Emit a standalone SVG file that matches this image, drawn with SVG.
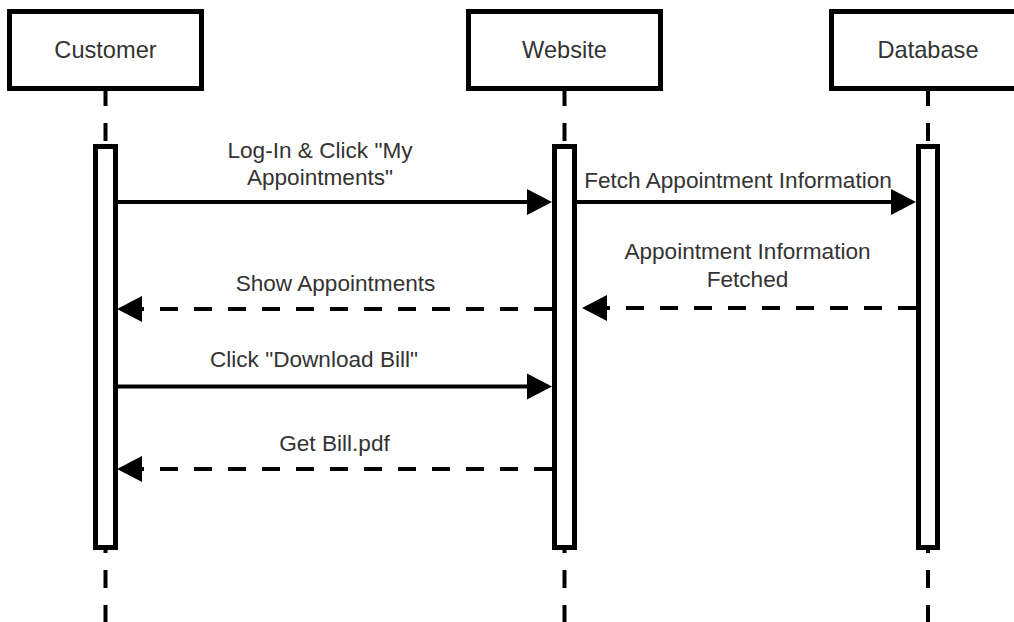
<svg xmlns="http://www.w3.org/2000/svg" width="1014" height="622" viewBox="0 0 1014 622">
  <style>
    .head { fill: #ffffff; stroke: #000000; stroke-width: 5; }
    .bar { fill: #ffffff; stroke: #000000; stroke-width: 5; }
    .life { stroke: #000000; stroke-width: 4; stroke-dasharray: 18 17; fill: none; }
    .msg { stroke: #000000; stroke-width: 4; fill: none; marker-end: url(#arrow); }
    .ret { stroke-dasharray: 18 16; }
    .title { font-family: "Liberation Sans", Arial, sans-serif; font-size: 23.6px; fill: #333333; text-anchor: middle; }
    .label { font-family: "Liberation Sans", Arial, sans-serif; font-size: 22.6px; fill: #333333; text-anchor: middle; }
  </style>
  <defs>
    <marker id="arrow" markerUnits="userSpaceOnUse" markerWidth="26" markerHeight="28" viewBox="0 0 26 28" refX="0" refY="14" orient="auto">
      <path d="M0,1 L25,14 L0,27 Z" fill="#000000"/>
    </marker>
  </defs>
  <rect width="1014" height="622" fill="#ffffff"/>

  <!-- lifelines: dashed stems drawn beneath the activation bars -->
  <g id="lifelines">
    <line class="life" x1="105.5" y1="88" x2="105.5" y2="146"/>
    <line class="life" x1="105.5" y1="535" x2="105.5" y2="622"/>
    <line class="life" x1="564.5" y1="88" x2="564.5" y2="146"/>
    <line class="life" x1="564.5" y1="535" x2="564.5" y2="622"/>
    <line class="life" x1="928" y1="88" x2="928" y2="146"/>
    <line class="life" x1="928" y1="535" x2="928" y2="622"/>
  </g>

  <g id="customer">
    <rect class="head" x="9.5" y="11.5" width="192" height="77"/>
    <text class="title" x="105.5" y="58">Customer</text>
    <rect class="bar" x="95.5" y="146.5" width="20" height="401"/>
  </g>

  <g id="website">
    <rect class="head" x="468.5" y="11.5" width="192" height="77"/>
    <text class="title" x="564.5" y="58">Website</text>
    <rect class="bar" x="554.5" y="146.5" width="20" height="401"/>
  </g>

  <g id="database">
    <rect class="head" x="831.5" y="11.5" width="192" height="77"/>
    <text class="title" x="928" y="58">Database</text>
    <rect class="bar" x="918.5" y="146.5" width="19" height="401"/>
  </g>

  <!-- messages -->
  <g id="connectors">
    <line class="msg" x1="118" y1="202" x2="527" y2="202"/>
    <line class="msg" x1="577" y1="202" x2="891" y2="202"/>
    <line class="msg ret" x1="916" y1="308" x2="607" y2="308"/>
    <line class="msg ret" x1="552" y1="309" x2="142" y2="309"/>
    <line class="msg" x1="118" y1="386.5" x2="527" y2="386.5"/>
    <line class="msg ret" x1="552" y1="469" x2="142" y2="469"/>
  </g>

  <g id="labels">
    <text class="label" x="320" y="158">Log-In &amp; Click "My</text>
    <text class="label" x="320" y="185">Appointments"</text>
    <text class="label" x="738" y="188">Fetch Appointment Information</text>
    <text class="label" x="747.5" y="259">Appointment Information</text>
    <text class="label" x="747.5" y="286.5">Fetched</text>
    <text class="label" x="335.5" y="290.5">Show Appointments</text>
    <text class="label" x="314" y="366.5">Click "Download Bill"</text>
    <text class="label" x="334.5" y="450.5">Get Bill.pdf</text>
  </g>
</svg>
